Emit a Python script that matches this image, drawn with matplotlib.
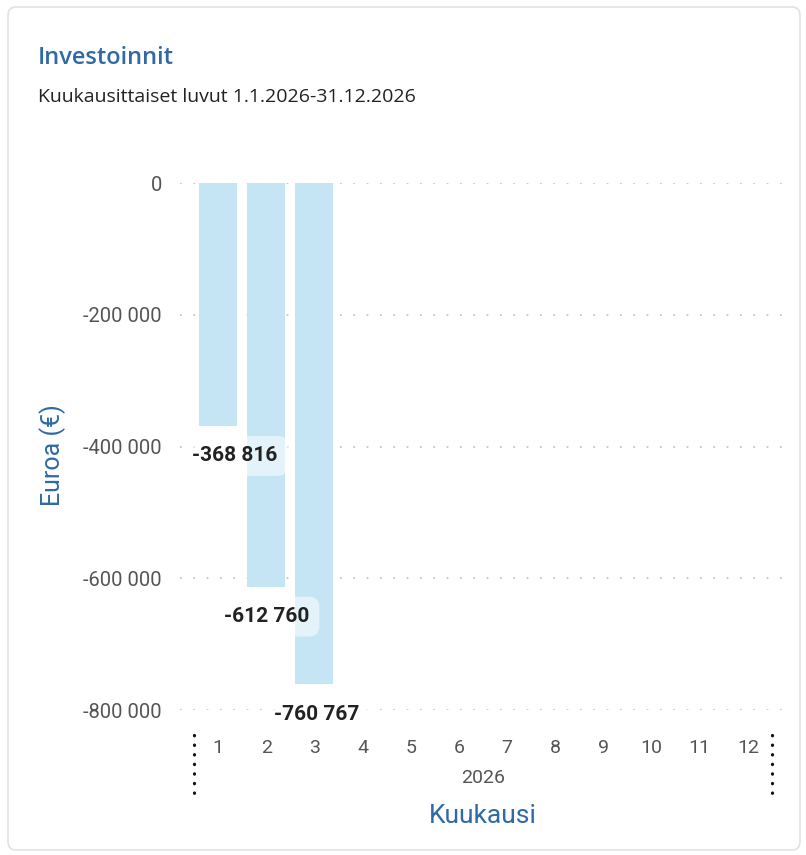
import matplotlib.pyplot as plt
from matplotlib.patches import FancyBboxPatch
from matplotlib.ticker import FuncFormatter
import matplotlib.transforms as mtransforms

########## DATA ##########
months = list(range(1, 13))
month_labels = [str(m) for m in months]
bar_months = [1, 2, 3]
investments = [-368816, -612760, -760767]
y_ticks = [0, -200000, -400000, -600000, -800000]
year_label = "2026"
title = "Investoinnit"
subtitle = "Kuukausittaiset luvut 1.1.2026-31.12.2026"
########## END DATA ##########

blue_txt = "#2f6aa6"
bar_col = "#c5e5f5"
grid_col = "#bdbdbd"
tick_col = "#555555"


def fmt(v, pos=None):
    return f"{v:,.0f}".replace(",", " ")


fig = plt.figure(figsize=(8.06, 8.55), dpi=100)
W, H = 806, 855

# card frame (kept behind the axes)
card = FancyBboxPatch((8 / W, 5 / H), 792 / W, 843 / H,
                      boxstyle="round,pad=0,rounding_size=0.01",
                      transform=fig.transFigure, facecolor="white",
                      edgecolor="#e2e2e2", linewidth=1.2, zorder=-10)
fig.patches.append(card)

fig.text(38 / W, 1 - 58 / H, title, color=blue_txt, fontsize=17,
         fontweight="semibold", family="Open Sans", va="center", ha="left")
fig.text(38 / W, 1 - 97 / H, subtitle, color="#222222", fontsize=14,
         family="Open Sans", va="center", ha="left")

ax = fig.add_axes([180 / W, 1 - 710 / H, 605 / W, 527 / H])
ax.patch.set_alpha(0)
ax.set_xlim(0.21, 12.77)
ax.set_ylim(-800000, 0)

ax.bar(bar_months, investments, width=0.79, color=bar_col, zorder=2)

ax.set_yticks(y_ticks)
ax.yaxis.set_major_formatter(FuncFormatter(fmt))
ax.set_xticks(months)
ax.set_xticklabels(month_labels)
ax.tick_params(axis="y", length=0, pad=13, labelsize=14.5, labelcolor=tick_col)
ax.tick_params(axis="x", length=0, pad=21, labelsize=14, labelcolor=tick_col)
for lab in ax.get_xticklabels() + ax.get_yticklabels():
    lab.set_family("Roboto")

ax.grid(axis="y", color=grid_col, linestyle=(0, (1, 7)), linewidth=1.2)
ax.set_axisbelow(True)
for s in ax.spines.values():
    s.set_visible(False)

# data labels below bar ends
label_dx = [17, 0, 2]
for m, v, dx in zip(bar_months, investments, label_dx):
    ax.annotate(fmt(v), (m, v), xytext=(dx, -30), textcoords="offset pixels",
                ha="center", va="center", fontsize=15, fontweight="bold",
                family="Roboto", color="#222222", zorder=4, annotation_clip=False,
                bbox=dict(boxstyle="round,pad=0.5,rounding_size=0.5",
                          facecolor="white", alpha=0.55, edgecolor="none"))

# year label and dotted boundaries of the hierarchy
trans = mtransforms.blended_transform_factory(ax.transData, fig.transFigure)
ax.text(6.5, 1 - 778 / H, year_label, transform=trans, ha="center", va="center",
        fontsize=14, color=tick_col, family="Roboto")
for xb in [0.5, 12.5]:
    ax.plot([xb, xb], [1 - 735 / H, 1 - 793 / H], transform=trans,
            color="#111111", linestyle=(0, (0.1, 2.9)), linewidth=2.3,
            clip_on=False, dash_capstyle="round")

fig.text(483 / W, 1 - 816 / H, "Kuukausi", color=blue_txt, fontsize=19,
         family="Roboto", ha="center", va="center")
fig.text(53 / W, 1 - 455 / H, "Euroa (€)", color=blue_txt, fontsize=18,
         family="Roboto", ha="center", va="center", rotation=90)

plt.savefig("out.png", dpi=100)
